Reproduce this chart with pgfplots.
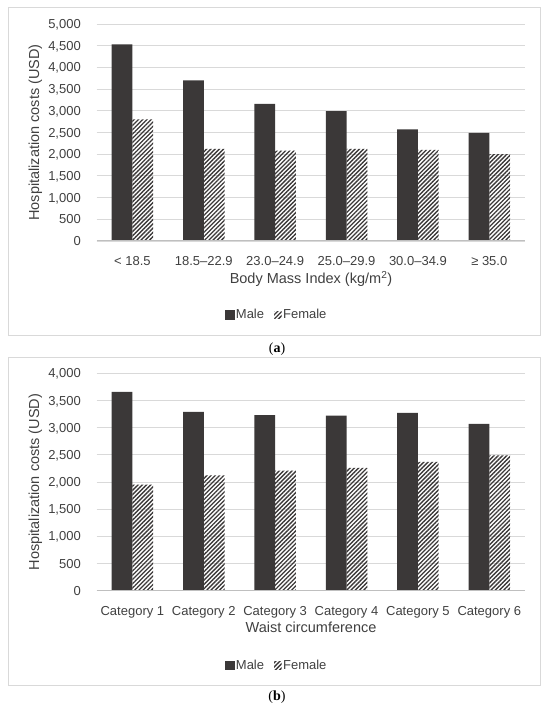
\documentclass[border=0pt]{standalone}
\usepackage{pgfplots}
\pgfplotsset{compat=1.18}
\usepackage{pgfplotstable}
\usetikzlibrary{patterns.meta}
\usepackage{fontspec}
\setmainfont{Liberation Sans}
\newfontfamily\capfont{Liberation Serif}
\definecolor{bardark}{HTML}{3B3838}
\definecolor{gridc}{HTML}{D9D9D9}
\definecolor{txt}{HTML}{404040}
\definecolor{framec}{HTML}{D9D9D9}
\definecolor{basec}{HTML}{BFBFBF}

\pgfplotstableread{
x male female
0 4530 2800
1 3700 2120
2 3160 2080
3 2990 2120
4 2570 2100
5 2490 2000
}\bmi
\pgfplotstableread{
x male female
0 3660 1950
1 3290 2120
2 3230 2210
3 3220 2260
4 3270 2370
5 3070 2490
}\waist

\pgfplotsset{panel/.style={
  scale only axis, width=428.3pt, height=217pt,
  anchor=south west,
  ybar=0pt, bar width=20.75pt,
  xmin=-0.5, xmax=5.5, ymin=0,
  xtick=data,
  ymajorgrids, grid style={gridc, line width=0.9pt},
  axis line style={draw=none},
  tick style={draw=none},
  /pgf/number format/assume math mode=true,
  /pgf/number format/1000 sep={,},
  ticklabel style={font=\fontsize{13}{15}\selectfont, text=txt, inner sep=0pt},
  yticklabel style={anchor=base east, xshift=-15.7pt, yshift=-4.6pt},
  xticklabel style={anchor=base, yshift=-20.4pt},
  legend columns=2,
  legend style={draw=none, fill=none, anchor=west, font=\fontsize{13}{15}\selectfont, text=txt, inner sep=0pt, nodes={inner sep=0pt},
    /tikz/every even column/.append style={column sep=10pt}},
  legend image code/.code={\fill[##1] (0pt,-4.6pt) rectangle (9.3pt,4.6pt); \path (10.7pt,0pt);},
  male/.style={fill=bardark, draw=none},
  female/.style={draw=none, pattern={Lines[angle=45,distance=3pt,line width=1.35pt]}, pattern color=bardark,
    legend image code/.code={\fill[##1] (0.5pt,-3.8pt) rectangle (8pt,3.8pt); \path (9.5pt,0pt);}},
}}

\begin{document}
\begin{tikzpicture}
\useasboundingbox (0pt,0pt) rectangle (550pt,712pt);
\draw[framec, line width=1pt] (8pt,376pt) rectangle (540pt,704pt);
\draw[framec, line width=1pt] (8pt,26pt) rectangle (540pt,354pt);

\begin{axis}[panel, at={(96.7pt,471pt)}, ymax=5000, ytick={0,500,...,5000},
  xticklabels={< 18.5, 18.5–22.9, 23.0–24.9, 25.0–29.9, 30.0–34.9, ≥ 35.0},
  legend style={at={(axis description cs:0.2996,-0.341)}}]
\addplot[male] table[x=x, y=male] {\bmi};
\addlegendentry{Male}
\addplot[female] table[x=x, y=female] {\bmi};
\addlegendentry{Female}
\draw[basec, line width=1.2pt] (axis cs:-0.5,0) -- (axis cs:5.5,0);
\end{axis}

\begin{axis}[panel, at={(96.7pt,121.3pt)}, height=217.4pt, ymax=4000, ytick={0,500,...,4000},
  xticklabels={Category 1, Category 2, Category 3, Category 4, Category 5, Category 6},
  legend style={at={(axis description cs:0.2996,-0.345)}}]
\addplot[male] table[x=x, y=male] {\waist};
\addlegendentry{Male}
\addplot[female] table[x=x, y=female] {\waist};
\addlegendentry{Female}
\draw[basec, line width=1.2pt] (axis cs:-0.5,0) -- (axis cs:5.5,0);
\end{axis}

\node[rotate=90, font=\fontsize{14.5}{17}\selectfont, text=txt] at (35.5pt,579.5pt) {Hospitalization costs (USD)};
\node[rotate=90, font=\fontsize{14.5}{17}\selectfont, text=txt] at (35.5pt,230pt) {Hospitalization costs (USD)};
\node[anchor=base, inner sep=0pt, font=\fontsize{14.5}{17}\selectfont, text=txt] at (311pt,428.5pt) {Body Mass Index (kg/m\textsuperscript{2})};
\node[anchor=base, inner sep=0pt, font=\fontsize{14.5}{17}\selectfont, text=txt] at (311pt,79.5pt) {Waist circumference};
\node[font=\capfont\fontsize{14}{16}\selectfont] at (277pt,363pt) {(\textbf{a})};
\node[font=\capfont\fontsize{14}{16}\selectfont] at (277pt,14.5pt) {(\textbf{b})};
\end{tikzpicture}
\end{document}
